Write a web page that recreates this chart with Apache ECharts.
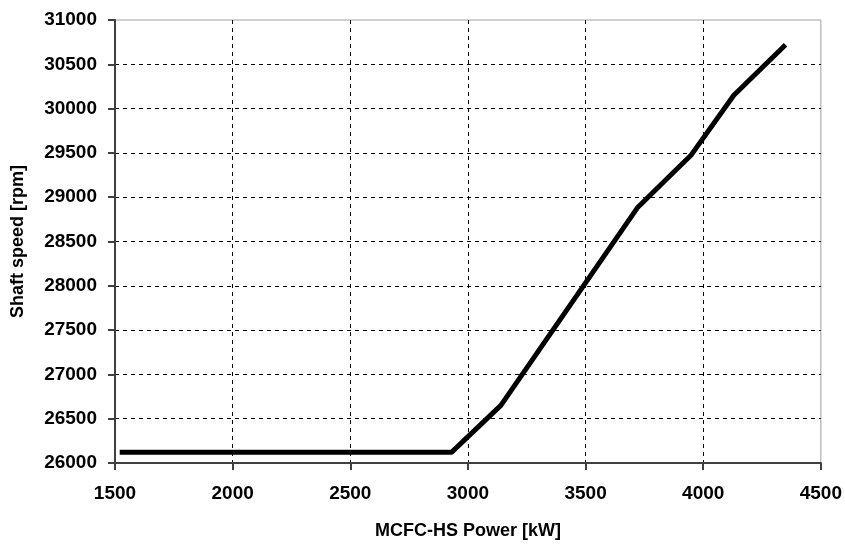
<!DOCTYPE html>
<html>
<head>
<meta charset="utf-8">
<title>Shaft speed vs MCFC-HS Power</title>
<script src="https://cdn.jsdelivr.net/npm/echarts@6/dist/echarts.min.js"></script>
<style>
  html, body { margin: 0; padding: 0; background: #fff; }
  #main { width: 845px; height: 545px; }
</style>
</head>
<body>
<div id="main"></div>
<script>
// values
var powerKW = [1520, 2930, 3140, 3720, 3950, 4130, 4350];
var shaftRpm = [26120, 26120, 26650, 28880, 29480, 30150, 30720];

var pts = powerKW.map(function (p, i) { return [p, shaftRpm[i]]; });

var font = '"Liberation Sans", Arial, sans-serif';
var dash = { color: '#000', width: 1, type: [4, 4] };
var plain = function (v) { return String(v); };

var chart = echarts.init(document.getElementById('main'));
chart.setOption({
  animation: false,
  grid: {
    left: 115, right: 21, top: 20, bottom: 81,
    show: true, borderColor: '#a0a0a0', borderWidth: 1
  },
  xAxis: {
    type: 'value',
    min: 1500, max: 4500, interval: 500,
    name: 'MCFC-HS Power [kW]',
    nameLocation: 'middle', nameGap: 59,
    nameTextStyle: { fontFamily: font, fontWeight: 'bold', fontSize: 18, color: '#000' },
    axisLine: { onZero: false, lineStyle: { color: '#404040', width: 2 } },
    axisTick: { length: 7, lineStyle: { color: '#404040', width: 2 } },
    axisLabel: { margin: 21, formatter: plain, fontFamily: font, fontWeight: 'bold', fontSize: 19, color: '#000' },
    splitLine: { show: true, showMinLine: false, showMaxLine: false, lineStyle: dash }
  },
  yAxis: {
    type: 'value',
    min: 26000, max: 31000, interval: 500,
    name: 'Shaft speed [rpm]',
    nameLocation: 'middle', nameGap: 88,
    nameTextStyle: { fontFamily: font, fontWeight: 'bold', fontSize: 18, color: '#000' },
    axisLine: { show: true, onZero: false, lineStyle: { color: '#404040', width: 2 } },
    axisTick: { show: true, length: 7, lineStyle: { color: '#404040', width: 2 } },
    axisLabel: { margin: 18, formatter: plain, fontFamily: font, fontWeight: 'bold', fontSize: 19, color: '#000' },
    splitLine: { show: true, showMinLine: false, showMaxLine: false, lineStyle: dash }
  },
  series: [{
    type: 'line',
    data: pts,
    showSymbol: false,
    lineStyle: { color: '#000', width: 5 }
  }]
});
</script>
</body>
</html>
